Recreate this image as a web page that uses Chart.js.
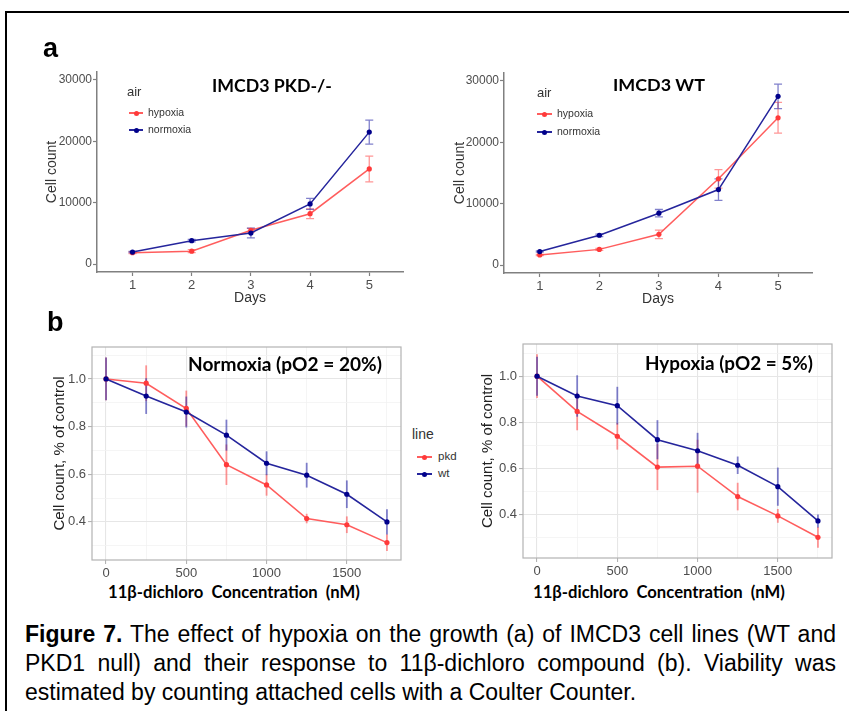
<!DOCTYPE html>
<html><head><meta charset="utf-8">
<script src="https://cdn.jsdelivr.net/npm/chart.js@4.4.1/dist/chart.umd.min.js"></script>
<style>
html,body{margin:0;padding:0;background:#fff;width:849px;height:711px;overflow:hidden;position:relative;font-family:"Liberation Sans",Arial,sans-serif;}
.frame{position:absolute;left:5px;top:11px;width:900px;height:800px;border:2px solid #000;box-sizing:border-box;}
canvas{position:absolute;}
.t{position:absolute;white-space:pre;line-height:1;}
.fit{font-family:Lato,"Open Sans",sans-serif;font-weight:700;color:#000;}
.lab{font-family:"Liberation Sans",Arial,sans-serif;font-weight:700;font-size:27px;color:#000;}
.cap{position:absolute;left:25px;width:811px;height:30px;font-size:23px;line-height:30px;color:#000;text-align:justify;text-align-last:justify;font-family:"Liberation Sans",Arial,sans-serif;}
.cap.last{text-align:left;text-align-last:left;}
.leg{position:absolute;color:#333;font-family:"Liberation Sans",Arial,sans-serif;white-space:pre;line-height:1;}
.mk{position:absolute;height:1.5px;}
.dot{position:absolute;border-radius:50%;}
</style></head>
<body>
<div class="frame"></div>
<canvas id="a1" width="380" height="250" style="left:30px;top:60px"></canvas>
<canvas id="a2" width="380" height="250" style="left:437px;top:60px"></canvas>
<canvas id="b1" width="370" height="250" style="left:40px;top:330px"></canvas>
<canvas id="b2" width="370" height="250" style="left:470px;top:330px"></canvas>
<div class="t lab" style="left:43px;top:35px">a</div>
<div class="t lab" style="left:47px;top:309px">b</div>
<div id="overlays"></div>
<div id="legends"></div>
<div class="cap" style="top:619px"><b>Figure 7.</b> The effect of hypoxia on the growth (a) of IMCD3 cell lines (WT and</div>
<div class="cap" style="top:648px">PKD1 null) and their response to 11β-dichloro compound (b). Viability was</div>
<div class="cap last" style="top:677px">estimated by counting attached cells with a Coulter Counter.</div>
<script>
// ---------- data ----------
const days = [1, 2, 3, 4, 5];
const growthYTicks = [0, 10000, 20000, 30000];
const pkdHypoxia    = [1850, 2100, 5500, 8200, 15500];
const pkdHypoxiaErr = [150, 250, 300, 800, 2100];
const pkdNormoxia    = [1950, 3800, 5050, 9800, 21500];
const pkdNormoxiaErr = [100, 200, 800, 900, 1950];
const wtHypoxia    = [1650, 2550, 5000, 14050, 24000];
const wtHypoxiaErr = [100, 150, 700, 1500, 2500];
const wtNormoxia    = [2200, 4850, 8450, 12300, 27500];
const wtNormoxiaErr = [100, 200, 600, 1750, 2000];

const conc = [0, 250, 500, 750, 1000, 1250, 1500, 1750];
const normoxiaPkd    = [1.0, 0.982, 0.876, 0.640, 0.555, 0.414, 0.388, 0.313];
const normoxiaPkdErr = [0.09, 0.075, 0.075, 0.085, 0.045, 0.02, 0.035, 0.035];
const normoxiaWt     = [1.0, 0.928, 0.861, 0.764, 0.646, 0.596, 0.516, 0.400];
const normoxiaWtErr  = [0.09, 0.075, 0.065, 0.065, 0.05, 0.052, 0.058, 0.053];
const hypoxiaPkd     = [1.0, 0.847, 0.739, 0.605, 0.609, 0.477, 0.393, 0.300];
const hypoxiaPkdErr  = [0.095, 0.082, 0.058, 0.10, 0.115, 0.06, 0.03, 0.045];
const hypoxiaWt      = [1.0, 0.914, 0.872, 0.724, 0.676, 0.613, 0.520, 0.371];
const hypoxiaWtErr   = [0.085, 0.09, 0.082, 0.085, 0.078, 0.038, 0.083, 0.028];

const growthLegendTitle = 'air';
const growthSeries = ['hypoxia', 'normoxia'];
const doseLegendTitle = 'line';
const doseSeries = ['pkd', 'wt'];
const growthTitles = ['IMCD3 PKD-/-', 'IMCD3 WT'];
const doseTitles = ['Normoxia (pO2 = 20%)', 'Hypoxia (pO2 = 5%)'];
const doseXTitle = '11β-dichloro  Concentration  (nM)';
const growthXTitle = 'Days';
const growthYTitle = 'Cell count';
const doseYTitle = 'Cell count, % of control';

// ---------- style ----------
const F = '"Liberation Sans", Arial, sans-serif';
const RED_LINE = 'rgba(255,75,75,0.9)', RED_PT = '#FF3A3A', RED_ERR = 'rgba(255,80,80,0.6)';
const BLUE_LINE = '#25259C', BLUE_PT = '#00008B', BLUE_ERR = 'rgba(45,45,170,0.6)';

const errPlugin = {
  id: 'errbars',
  beforeDatasetsDraw(chart) {
    const {ctx, scales: {x, y}} = chart;
    chart.data.datasets.forEach(ds => {
      if (!ds.errors) return;
      ctx.save();
      ctx.strokeStyle = ds.errColor; ctx.lineWidth = ds.errWidth;
      ds.data.forEach((p, j) => {
        const e = ds.errors[j];
        const px = x.getPixelForValue(p.x);
        const y1 = y.getPixelForValue(p.y - e), y2 = y.getPixelForValue(p.y + e);
        ctx.beginPath();
        ctx.moveTo(px, y1); ctx.lineTo(px, y2);
        if (ds.capW) {
          ctx.moveTo(px - ds.capW, y1); ctx.lineTo(px + ds.capW, y1);
          ctx.moveTo(px - ds.capW, y2); ctx.lineTo(px + ds.capW, y2);
        }
        ctx.stroke();
      });
      ctx.restore();
    });
  }
};
const framePlugin = {
  id: 'panelframe',
  afterDraw(chart) {
    const {ctx, chartArea: a} = chart;
    ctx.save(); ctx.strokeStyle = '#B3B3B3'; ctx.lineWidth = 1.2;
    ctx.strokeRect(a.left, a.top, a.right - a.left, a.bottom - a.top);
    ctx.restore();
  }
};

function ds(label, xs, ys, errs, line, pt, err, order, cap, lw) {
  return {
    label, data: xs.map((v, i) => ({x: v, y: ys[i]})), errors: errs,
    errColor: err, errWidth: cap ? 1.3 : 1.8, capW: cap,
    borderColor: line, backgroundColor: pt, pointBackgroundColor: pt,
    borderWidth: lw, pointRadius: 2.6, pointBorderWidth: 0, pointHoverRadius: 2.6,
    tension: 0, order
  };
}

function growthChart(id, hyp, hypErr, nor, norErr, g) {
  return new Chart(document.getElementById(id), {
    type: 'line',
    data: {datasets: [
      ds(growthSeries[0], days, hyp, hypErr, RED_LINE, RED_PT, RED_ERR, 1, 4, 1.5),
      ds(growthSeries[1], days, nor, norErr, BLUE_LINE, BLUE_PT, BLUE_ERR, 0, 4, 1.5)
    ]},
    options: {
      responsive: false, animation: false, devicePixelRatio: 1,
      layout: {padding: {top: g.pt, right: g.pr, left: 0, bottom: 0}, autoPadding: false},
      plugins: {legend: {display: false}, tooltip: {enabled: false}, title: {display: false}},
      scales: {
        x: {
          type: 'linear', min: 0.4, max: 5.57,
          afterFit(s) { s.height = g.xh; },
          afterBuildTicks(s) { s.ticks = days.map(v => ({value: v})); },
          ticks: {autoSkip: false, maxRotation: 0, minRotation: 0,
                  color: '#4D4D4D', font: {size: 13, family: F}, padding: 2, callback: v => String(v)},
          grid: {drawOnChartArea: false, drawTicks: true, tickLength: 4, tickColor: '#808080', tickWidth: 1.2},
          border: {display: true, color: '#808080', width: 1.5},
          title: {display: true, text: growthXTitle, color: '#333', font: {size: 14, family: F}, padding: {top: 0, bottom: g.xtp}}
        },
        y: {
          type: 'linear', min: -1300, max: 31300,
          afterFit(s) { s.width = g.yw; },
          afterBuildTicks(s) { s.ticks = growthYTicks.map(v => ({value: v})); },
          ticks: {autoSkip: false,
                  color: '#4D4D4D', font: {size: 12, family: F}, padding: 1, callback: v => String(v)},
          grid: {drawOnChartArea: false, drawTicks: true, tickLength: 4, tickColor: '#808080', tickWidth: 1.2},
          border: {display: true, color: '#808080', width: 1.5},
          title: {display: true, text: growthYTitle, color: '#333', font: {size: 14, family: F}, padding: {top: g.ytp, bottom: 0}}
        }
      }
    },
    plugins: [errPlugin]
  });
}

function isMajor(v, step) { return Math.abs(Math.round(v / step) * step - v) < step * 0.01; }

function doseChart(id, pkd, pkdErr, wt, wtErr, g) {
  return new Chart(document.getElementById(id), {
    type: 'line',
    data: {datasets: [
      ds(doseSeries[0], conc, pkd, pkdErr, RED_LINE, RED_PT, RED_ERR, 1, 0, 1.6),
      ds(doseSeries[1], conc, wt, wtErr, BLUE_LINE, BLUE_PT, BLUE_ERR, 0, 0, 1.6)
    ]},
    options: {
      responsive: false, animation: false, devicePixelRatio: 1,
      layout: {padding: {top: g.pt, right: g.pr, left: 0, bottom: 0}, autoPadding: false},
      plugins: {legend: {display: false}, tooltip: {enabled: false}, title: {display: false}},
      scales: {
        x: {
          type: 'linear', min: -87.5, max: 1837.5,
          afterFit(s) { s.height = g.xh; },
          ticks: {stepSize: 250, includeBounds: false, autoSkip: false, maxRotation: 0, minRotation: 0,
                  color: '#4D4D4D', font: {size: 13, family: F}, padding: 2,
                  callback: v => isMajor(v, 500) ? String(v) : ''},
          grid: {drawOnChartArea: true, drawTicks: true, tickLength: 4,
                 color: c => isMajor(c.tick.value, 500) ? '#E6E6E6' : '#F3F3F3',
                 lineWidth: c => isMajor(c.tick.value, 500) ? 1.1 : 0.8,
                 tickColor: c => isMajor(c.tick.value, 500) ? '#B3B3B3' : 'rgba(0,0,0,0)', tickWidth: 1.1},
          border: {display: false}
        },
        y: {
          type: 'linear', min: g.ymin, max: g.ymax,
          afterFit(s) { s.width = g.yw; },
          ticks: {stepSize: 0.1, includeBounds: false, autoSkip: false,
                  color: '#4D4D4D', font: {size: 13, family: F}, padding: 2,
                  callback: v => isMajor(v, 0.2) ? v.toFixed(1) : ''},
          grid: {drawOnChartArea: true, drawTicks: true, tickLength: 4,
                 color: c => isMajor(c.tick.value, 0.2) ? '#E6E6E6' : '#F3F3F3',
                 lineWidth: c => isMajor(c.tick.value, 0.2) ? 1.1 : 0.8,
                 tickColor: c => isMajor(c.tick.value, 0.2) ? '#B3B3B3' : 'rgba(0,0,0,0)', tickWidth: 1.1},
          border: {display: false},
          title: {display: true, text: doseYTitle, color: '#222', font: {size: 15, family: F}, padding: {top: g.ytp, bottom: 0}}
        }
      }
    },
    plugins: [errPlugin, framePlugin]
  });
}

growthChart('a1', pkdHypoxia, pkdHypoxiaErr, pkdNormoxia, pkdNormoxiaErr, {pt: 12, pr: 7, yw: 67, xh: 38, ytp: 13.6, xtp: 3.6});
growthChart('a2', wtHypoxia, wtHypoxiaErr, wtNormoxia, wtNormoxiaErr, {pt: 13, pr: 5, yw: 67, xh: 37, ytp: 14.6, xtp: 2.6});
doseChart('b1', normoxiaPkd, normoxiaPkdErr, normoxiaWt, normoxiaWtErr, {pt: 17, pr: 9, yw: 52, xh: 20, ytp: 11, ymin: 0.24, ymax: 1.134});
doseChart('b2', hypoxiaPkd, hypoxiaPkdErr, hypoxiaWt, hypoxiaWtErr, {pt: 14, pr: 8, yw: 53, xh: 22, ytp: 9, ymin: 0.21, ymax: 1.14});

// ---------- overlay bold texts ----------
const overlays = [
  {text: growthTitles[0], left: 212, w: 120, cy: 86},
  {text: growthTitles[1], left: 613, w: 92, cy: 86},
  {text: doseTitles[0], left: 188, w: 194, cy: 364},
  {text: doseTitles[1], left: 645, w: 168, cy: 364},
  {text: doseXTitle, left: 108, w: 252, cy: 593},
  {text: doseXTitle, left: 533, w: 252, cy: 593}
];
const ov = document.getElementById('overlays');
overlays.forEach(o => {
  const el = document.createElement('div');
  el.className = 't fit'; el.textContent = o.text;
  el.style.left = o.left + 'px'; el.style.fontSize = '17px';
  ov.appendChild(el);
  const w = el.getBoundingClientRect().width;
  const fs = 17 * o.w / w;
  el.style.fontSize = fs + 'px';
  el.style.top = (o.cy - fs * 0.53) + 'px';
});

// ---------- legends ----------
const legends = [
  {title: growthLegendTitle, names: growthSeries, tx: 127, tcy: 92, tfs: 13, rows: [113, 130], mx: 129, mw: 14, lx: 148, fs: 10.5},
  {title: growthLegendTitle, names: growthSeries, tx: 537, tcy: 93, tfs: 13, rows: [114, 132], mx: 537, mw: 15, lx: 557, fs: 10.5},
  {title: doseLegendTitle, names: doseSeries, tx: 412, tcy: 435, tfs: 14, rows: [457, 474], mx: 417, mw: 15, lx: 438, fs: 11.5}
];
const lg = document.getElementById('legends');
const legCols = [[RED_LINE, RED_PT], [BLUE_LINE, BLUE_PT]];
function addText(txt, x, cy, fs) {
  const el = document.createElement('div');
  el.className = 'leg'; el.textContent = txt;
  el.style.left = x + 'px'; el.style.fontSize = fs + 'px'; el.style.top = (cy - fs * 0.55) + 'px';
  lg.appendChild(el);
}
legends.forEach(L => {
  addText(L.title, L.tx, L.tcy, L.tfs);
  L.names.forEach((n, i) => {
    const cy = L.rows[i];
    const m = document.createElement('div');
    m.className = 'mk'; m.style.left = L.mx + 'px'; m.style.width = L.mw + 'px';
    m.style.top = (cy - 0.75) + 'px'; m.style.background = legCols[i][0];
    lg.appendChild(m);
    const d = document.createElement('div');
    d.className = 'dot'; d.style.width = '5px'; d.style.height = '5px';
    d.style.left = (L.mx + L.mw / 2 - 2.5) + 'px'; d.style.top = (cy - 2.5) + 'px';
    d.style.background = legCols[i][1];
    lg.appendChild(d);
    addText(n, L.lx, cy, L.fs);
  });
});
</script>
</body></html>
